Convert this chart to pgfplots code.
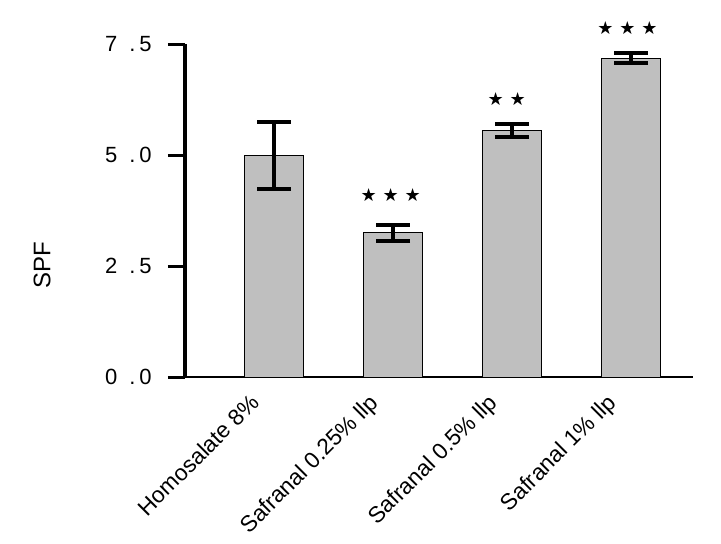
\documentclass[border=0pt]{standalone}
\usepackage{pgfplots}
\pgfplotsset{compat=1.18}
\usepackage{fontspec}
\setmainfont{Liberation Sans}
\newfontfamily\symfont{DejaVu Sans}
\begin{document}
\begin{tikzpicture}
\useasboundingbox (-138.75pt,-125pt) rectangle (402pt,282.95pt);
\begin{axis}[
  at={(0,0)}, anchor=south west,
  scale only axis, width=381pt, height=249.75pt,
  xmin=-0.75, xmax=3.52, ymin=0, ymax=7.5,
  axis x line=bottom, axis y line=left,
  x axis line style={-, line width=1.8pt},
  y axis line style={-, line width=3pt},
  xtick={0,1,2,3},
  xticklabels={Homosalate 8\%, Safranal 0.25\% llp, Safranal 0.5\% llp, Safranal 1\% llp},
  x tick style={draw=none},
  ytick={0,2.5,5,7.5},
  yticklabels={0\hspace{9pt}.\hspace{3pt}0, 2\hspace{9pt}.\hspace{3pt}5, 5\hspace{9pt}.\hspace{3pt}0, 7\hspace{9pt}.\hspace{3pt}5},
  tick align=outside, major tick length=12.75pt,
  y tick style={line width=2.25pt, black},
  yticklabel style={font=\fontsize{16.5}{19}\selectfont, xshift=-8.75pt},
  xticklabel style={font=\fontsize{17}{20}\selectfont, xshift=-19pt, yshift=1.5pt, rotate=45, anchor=north east, inner sep=0pt},
  ylabel={SPF},
  ylabel style={at={(rel axis cs:-0.2815,0.337)}, anchor=center, rotate=0, font=\fontsize{18}{21}\selectfont},
  clip=false,
]
\addplot[ybar, bar width=44.25pt, fill=black!25, draw=black, line width=0.75pt,
  error bars/.cd, y dir=both, y explicit,
  error bar style={line width=3pt, black},
  error mark options={rotate=90, mark size=12.75pt, line width=3pt, black}]
  coordinates {
    (0,5.00) +- (0,0.75)
    (1,3.25) +- (0,0.17)
    (2,5.56) +- (0,0.15)
    (3,7.19) +- (0,0.12)
  };
\node[font=\symfont\fontsize{13.5}{14}\selectfont] at (axis cs:0.98,4.10) {★\hspace{4.4pt}★\hspace{4.4pt}★};
\node[font=\symfont\fontsize{13.5}{14}\selectfont] at (axis cs:1.955,6.26) {★\hspace{4.4pt}★};
\node[font=\symfont\fontsize{13.5}{14}\selectfont] at (axis cs:2.97,7.87) {★\hspace{4.4pt}★\hspace{4.4pt}★};
\end{axis}
\end{tikzpicture}
\end{document}
